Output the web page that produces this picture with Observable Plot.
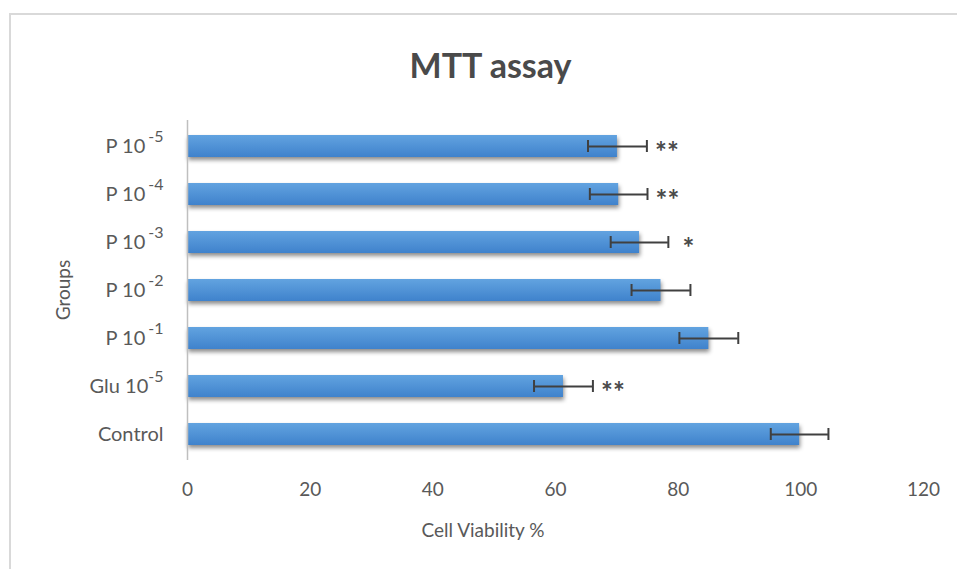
<!DOCTYPE html>
<html><head><meta charset="utf-8">
<script src="https://cdn.jsdelivr.net/npm/d3@7"></script>
<script src="https://cdn.jsdelivr.net/npm/@observablehq/plot@0.6"></script>
<style>
body{margin:0;background:#fff;width:957px;height:569px;overflow:hidden;position:relative;font-family:Lato,"Open Sans",sans-serif;}
#frame{position:absolute;left:9px;top:13px;right:-5px;bottom:-5px;border-left:2px solid #d9d9d9;border-top:2px solid #d9d9d9;}
#title{position:absolute;left:0;top:40px;width:957px;padding-left:24px;box-sizing:border-box;text-align:center;font-size:34px;font-weight:700;color:#4a4a4a;line-height:50px;}
#chart{position:absolute;left:0;top:100px;}
#xlabel{position:absolute;top:518px;left:383px;width:200px;text-align:center;font-size:19px;color:#595959;}
#ylabel{position:absolute;left:62px;top:290px;transform:translate(-50%,-50%) rotate(-90deg);font-size:19px;color:#595959;white-space:nowrap;}
</style>
</head><body>
<div id="frame"></div>
<div id="title">MTT assay</div>
<div id="chart"></div>
<div id="xlabel">Cell Viability %</div>
<div id="ylabel">Groups</div>
<script>
const groups = ["P 10^-5", "P 10^-4", "P 10^-3", "P 10^-2", "P 10^-1", "Glu 10^-5", "Control"];
const viability = [70.1, 70.3, 73.7, 77.2, 85.0, 61.3, 99.8];
const errors = [4.8, 4.7, 4.7, 4.8, 4.8, 4.8, 4.7];
const signif = ["**", "**", "*", "", "", "**", ""];
const xTicks = [0, 20, 40, 60, 80, 100, 120];

const rows = groups.map((g, i) => ({group: g, value: viability[i], lo: viability[i] - errors[i], hi: viability[i] + errors[i], sig: signif[i]}));

const plot = Plot.plot({
  width: 957,
  height: 469,
  marginLeft: 187,
  marginRight: 34,
  marginTop: 20,
  marginBottom: 109,
  style: {fontFamily: "Lato, 'Open Sans', sans-serif", fontSize: "19px", color: "#595959", background: "transparent"},
  x: {domain: [0, 120]},
  y: {domain: groups, paddingInner: 0.54, paddingOuter: 0.245},
  marks: [
    Plot.barX(rows, {y: "group", x: "value", fill: "url(#barGrad)"}),
    Plot.ruleX([0], {stroke: "#bfbfbf", strokeWidth: 1.5}),
    Plot.ruleY(rows, {y: "group", x1: "lo", x2: "hi", stroke: "#404040", strokeWidth: 2}),
    Plot.tickX(rows, {y: "group", x: "lo", stroke: "#404040", strokeWidth: 2, insetTop: 5, insetBottom: 5}),
    Plot.tickX(rows, {y: "group", x: "hi", stroke: "#404040", strokeWidth: 2, insetTop: 5, insetBottom: 5}),
    Plot.text(rows, {y: "group", x: "hi", text: "sig", dx: 20, dy: 7, fontSize: 28, fontWeight: "bold", fill: "#4a4a4a", textAnchor: "middle"}),
    Plot.axisY({tickSize: 0, tickPadding: 24, label: null, fontSize: 20}),
    Plot.axisX({ticks: xTicks, tickSize: 0, tickPadding: 22, label: null})
  ]
});

const svg = d3.select(plot);
const defs = svg.insert("defs", ":first-child");
const grad = defs.append("linearGradient").attr("id", "barGrad").attr("x1", 0).attr("y1", 0).attr("x2", 0).attr("y2", 1);
grad.append("stop").attr("offset", "0%").attr("stop-color", "#62a3e0");
grad.append("stop").attr("offset", "100%").attr("stop-color", "#3f82cc");
svg.select('g[aria-label="bar"]').style("filter", "drop-shadow(1px 3px 2px rgba(0,0,0,0.45))");

svg.selectAll('g[aria-label="y-axis tick label"] text').each(function () {
  const t = d3.select(this);
  const s = t.text();
  const parts = s.split("^");
  if (parts.length < 2) return;
  t.text(null);
  t.append("tspan").text(parts[0]);
  t.append("tspan").attr("font-size", "16px").attr("dy", "-0.7em").attr("dx", parts[0].startsWith("P") ? 3 : 0).text(parts[1]);
});

document.getElementById("chart").appendChild(plot);
</script>
</body></html>
